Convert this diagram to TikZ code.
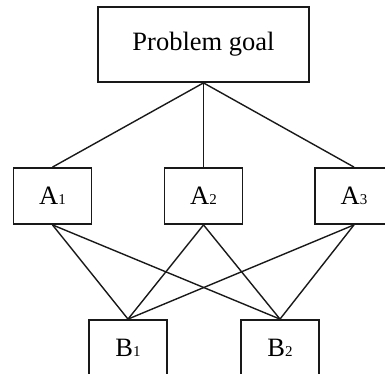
\documentclass[tikz,border=0pt]{standalone}
\usepackage{fontspec}
\setmainfont{Liberation Serif}
\newcommand{\dg}[1]{{\fontsize{15pt}{15pt}\selectfont #1}}
\begin{document}
\begin{tikzpicture}[x=1pt,y=-1pt,
  lbl/.style={font=\fontsize{26.5pt}{30pt}\selectfont},
  box/.style={draw=black!90, line width=1.8pt, inner sep=0pt, lbl},
  abox/.style={box, minimum width=78pt, minimum height=56pt},
  link/.style={draw=black!90, line width=1.4pt}]
\clip (0,0) rectangle (385,374);
\node[box, minimum width=211pt, minimum height=75pt] (goal) at (203.5,44.5) {Problem goal};
\node[abox] (a1) at (52.5,196) {A\dg{1}};
\node[abox] (a2) at (203.5,196) {A\dg{2}};
\node[abox] (a3) at (354,196) {A\dg{3}};
\node[abox, minimum height=80pt] (b1) at (128,360) {};
\node[abox, minimum height=80pt] (b2) at (280,360) {};
\node[lbl, anchor=base] (t1) at (128,356.7) {B\dg{1}};
\node[lbl, anchor=base] (t2) at (280,356.7) {B\dg{2}};
\draw[link] (goal.south) -- (a1.north);
\draw[link] (goal.south) -- (a2.north);
\draw[link] (goal.south) -- (a3.north);
\foreach \a in {a1,a2,a3}{
  \draw[link] (\a.south) -- (b1.north);
  \draw[link] (\a.south) -- (b2.north);
}
\end{tikzpicture}
\end{document}
